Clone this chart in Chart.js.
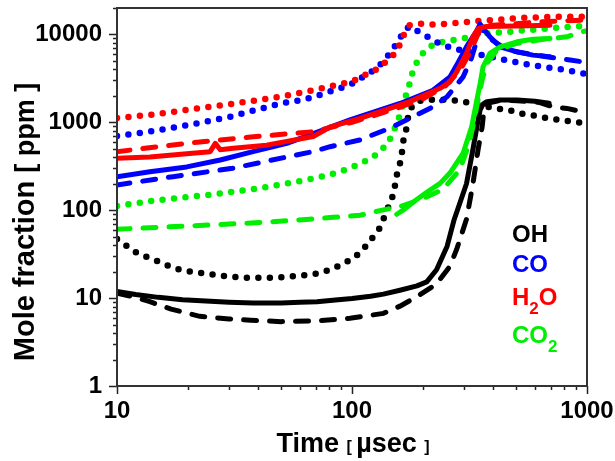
<!DOCTYPE html>
<html>
<head>
<meta charset="utf-8">
<script src="https://cdn.jsdelivr.net/npm/chart.js@4.4.1/dist/chart.umd.min.js"></script>
<style>
  html, body { margin: 0; padding: 0; background: #fff; }
</style>
</head>
<body>
<canvas id="chart" width="615" height="461"></canvas>
<script>
// axis ticks
const xTickLabels = [10, 100, 1000];
const yTickLabels = [1, 10, 100, 1000, 10000];

// species shown in the in-plot legend
const speciesNames = ['OH', 'CO', 'H2O', 'CO2'];
const speciesColors = ['#000000', '#0000ff', '#ff0000', '#00ee00'];

// [time (usec), mole fraction (ppm)] -- exp = solid, model1 = dashed, model2 = dotted
const ohExp = [[10,11.9],[12,11],[15,10.2],[19,9.6],[25,9.2],[30,9.0],[38,8.8],[50,8.8],[60,9.0],[71,9.1],[85,9.5],[100,9.9],[120,10.5],[136,11.1],[160,12.3],[189,13.8],[208,15.3],[229,21],[254,39],[272,78],[307,200],[327,490],[340,890],[351,1390],[362,1620],[375,1720],[427,1800],[504,1800],[600,1740],[690,1650]];
const ohModel1 = [[10,11.4],[12,10.2],[13.8,9.1],[17,7.5],[22.5,6.2],[30,5.8],[37,5.6],[50,5.4],[71,5.5],[98,5.9],[136,6.7],[160,8.1],[189,10.4],[229,14.5],[261,23],[279,36],[307,79],[327,200],[344,490],[358,890],[363,1270],[375,1650],[427,1780],[504,1760],[630,1680],[717,1500],[822,1440],[962,1310],[1000,1290]];
const ohModel2 = [[10,47],[11.1,38.6],[12.3,32],[13.8,28.6],[15.2,25.8],[17.1,22.5],[19.1,20.6],[21.5,19.7],[24.2,19],[26.9,18.2],[30.3,17.6],[34,17.1],[38,17],[43,17],[48,17.1],[53.5,17.5],[60,18],[67.6,18.5],[75.3,19.7],[83,21.8],[91.6,24.4],[101,28.6],[110,33.9],[119,45],[129,57],[136,79],[142,105],[148,137],[152,184],[155,250],[160,340],[163,445],[165,600],[170,826],[172,1070],[180,1530],[191,1750],[220,1806],[261,1806],[292,1720],[327,1650],[405,1440],[462,1390],[519,1260],[584,1210],[650,1140],[730,1080],[822,1040],[906,1000],[1000,970]];

const coExp = [[10,241],[13.8,274],[19.8,311],[27.5,373],[37.9,464],[52.8,577],[68,740],[98,1070],[160,1640],[221,2320],[261,3290],[279,4480],[307,7230],[340,11100],[351,13100],[386,9400],[427,7230],[504,6330],[589,5820],[696,5570]];
const coModel1 = [[10,194],[17.3,241],[31,300],[68,464],[80.6,528],[108,630],[145,860],[176,1110],[221,1500],[254,1960],[297,3290],[322,5330],[340,8620],[351,12300],[386,9000],[457,6640],[553,6080],[672,5570],[847,5120],[933,4930],[1000,4800]];
const coModel2 = [[10,700],[14,790],[20,930],[30,1150],[50,1645],[62,1806],[69,1960],[86,2370],[100,2750],[119,3660],[127,4100],[138,5120],[149,6800],[159,8620],[165,10700],[176,12400],[188,11100],[202,10000],[228,8250],[244,7560],[272,6930],[340,6000],[418,5330],[529,4680],[650,4280],[822,3930],[916,3660],[1000,3550]];

const h2oExp = [[10,390],[13.8,404],[19.8,438],[24.9,464],[26.2,577],[27.5,487],[31.2,506],[43.3,550],[68.4,690],[81,890],[108,1110],[145,1440],[176,1720],[237,2440],[261,2890],[279,3760],[307,6080],[327,9400],[344,11700],[373,12300],[500,12500],[696,12750]];
const h2oModel1 = [[10,464],[19.8,577],[38,685],[68,782],[100,1000],[150,1400],[200,1850],[250,2600],[290,4000],[320,6500],[340,9500],[355,12000],[375,12600],[450,13000],[600,13800],[800,14300],[1000,14600]];
const h2oModel2 = [[10,1120],[14,1220],[20,1390],[30,1600],[50,1970],[70,2350],[100,2920],[131,4170],[142,5120],[155,6330],[168,10600],[176,12750],[194,13300],[219,13000],[237,13000],[300,13800],[386,14540],[550,15500],[700,15850],[1000,15900]];

const co2Exp = [[155,90],[165,100],[183,125],[208,160],[237,202],[261,265],[297,445],[323,890],[340,1806],[351,2770],[361,4280],[386,6080],[427,7230],[504,8250],[589,8800],[696,9000]];
const co2Model1 = [[10,60.8],[15.2,64],[24.8,68],[40.6,72.5],[66,79],[83,83],[108,87.6],[136,101],[160,110],[200,135],[244,173],[288,290],[312,530],[327,890],[344,1806],[358,3040],[375,4700],[414,6640],[500,7900],[650,8800],[822,9400],[950,10700],[1000,11000]];
const co2Model2 = [[10,112],[15.2,131],[24.8,150],[40.6,178],[66,225],[79,250],[98,300],[121,390],[131,464],[142,577],[149,750],[160,1210],[165,1650],[171,2140],[176,2770],[182,3930],[191,5120],[200,6080],[215,7230],[225,7900],[266,8620],[297,9000],[375,10300],[470,10700],[535,11100],[676,11700],[847,12200],[1000,12500]];

const BLACK = speciesColors[0], BLUE = speciesColors[1], RED = speciesColors[2], GREEN = speciesColors[3];

function toPoints(arr) {
  return arr.map(p => ({ x: p[0], y: p[1] }));
}

function solid(data, color) {
  return { data: toPoints(data), borderColor: color, borderWidth: 5, showLine: true,
           pointRadius: 0, tension: 0, borderCapStyle: 'round', borderJoinStyle: 'round' };
}
function dashed(data, color) {
  return { data: toPoints(data), borderColor: color, borderWidth: 5, showLine: true,
           pointRadius: 0, tension: 0, borderDash: [13, 13], borderCapStyle: 'round' };
}
function dotted(data, color) {
  return { data: toPoints(data), borderColor: color, borderWidth: 6.5, showLine: true,
           pointRadius: 0, tension: 0, borderDash: [0, 11.5], borderCapStyle: 'round' };
}

// first in list is drawn on top
const datasets = [
  solid(co2Exp, GREEN), dashed(co2Model1, GREEN),
  solid(h2oExp, RED), dashed(h2oModel1, RED),
  solid(coExp, BLUE), dashed(coModel1, BLUE),
  solid(ohExp, BLACK), dashed(ohModel1, BLACK),
  dotted(h2oModel2, RED), dotted(coModel2, BLUE),
  dotted(co2Model2, GREEN), dotted(ohModel2, BLACK)
];

// draws text pieces one after another
function drawRuns(ctx, runs, x, y) {
  let cx = x;
  runs.forEach(r => {
    ctx.font = r.font;
    ctx.fillStyle = r.color || '#000';
    ctx.fillText(r.text, cx, y + (r.dy || 0));
    cx += ctx.measureText(r.text).width;
  });
  return cx - x;
}
function runsWidth(ctx, runs) {
  let w = 0;
  runs.forEach(r => { ctx.font = r.font; w += ctx.measureText(r.text).width; });
  return w;
}

const PLOT = { left: 117, right: 587, top: 8, bottom: 386 };

const decor = {
  id: 'decor',
  afterDraw(chart) {
    const { ctx, chartArea: a, scales } = chart;
    const xs = scales.x, ys = scales.y;
    ctx.save();

    // ticks
    ctx.strokeStyle = '#222';
    ctx.lineWidth = 1.5;
    ctx.beginPath();
    for (let d = 1; d <= 10000; d *= 10) {
      for (let k = 1; k <= 9; k++) {
        const v = k * d;
        if (v > 20000) break;
        const py = Math.round(ys.getPixelForValue(v)) + 0.5;
        const len = k === 1 ? 8 : 4;
        ctx.moveTo(a.left - len, py);
        ctx.lineTo(a.left, py);
      }
    }
    for (let d = 10; d <= 1000; d *= 10) {
      for (let k = 1; k <= 9; k++) {
        const v = k * d;
        if (v > 1000) break;
        const px = Math.round(xs.getPixelForValue(v)) + 0.5;
        const len = k === 1 ? 8 : 4;
        ctx.moveTo(px, a.bottom);
        ctx.lineTo(px, a.bottom + len);
      }
    }
    ctx.stroke();

    // frame
    ctx.strokeStyle = '#333';
    ctx.lineWidth = 2;
    ctx.strokeRect(a.left, a.top, a.right - a.left, a.bottom - a.top);

    ctx.textBaseline = 'alphabetic';
    ctx.textAlign = 'left';
    const F = 'Liberation Sans, Arial, sans-serif';

    // x title
    const xRuns = [
      { text: 'Time ', font: 'bold 27px ' + F },
      { text: '[ ', font: 'bold 16px ' + F },
      { text: '\u00b5sec ', font: 'bold 27px ' + F },
      { text: ']', font: 'bold 16px ' + F }
    ];
    const xw = runsWidth(ctx, xRuns);
    drawRuns(ctx, xRuns, 353 - xw / 2, 452);

    // y title
    const yRuns = [
      { text: 'Mole fraction ', font: 'bold 29px ' + F },
      { text: '[ ', font: 'bold 27px ' + F },
      { text: 'ppm', font: 'bold 27px ' + F },
      { text: ' ]', font: 'bold 27px ' + F }
    ];
    const yw = runsWidth(ctx, yRuns);
    ctx.save();
    ctx.translate(34, 222);
    ctx.rotate(-Math.PI / 2);
    drawRuns(ctx, yRuns, -yw / 2, 0);
    ctx.restore();

    // species labels
    const baselines = [242, 272, 305, 343];
    speciesNames.forEach((name, i) => {
      const runs = [];
      name.split(/(\d)/).filter(s => s).forEach(s => {
        if (/\d/.test(s)) runs.push({ text: s, font: 'bold 17px ' + F, color: speciesColors[i], dy: 9 });
        else runs.push({ text: s, font: 'bold 24px ' + F, color: speciesColors[i] });
      });
      drawRuns(ctx, runs, 512, baselines[i]);
    });

    ctx.restore();
  }
};

new Chart(document.getElementById('chart'), {
  type: 'scatter',
  data: { datasets },
  options: {
    responsive: false,
    animation: false,
    devicePixelRatio: 1,
    layout: { padding: { top: PLOT.top, right: 615 - PLOT.right, left: 0, bottom: 0 } },
    plugins: { legend: { display: false }, tooltip: { enabled: false } },
    scales: {
      x: {
        type: 'logarithmic', min: 10, max: 1000, bounds: 'data',
        grid: { display: false, drawTicks: false },
        border: { display: false },
        afterBuildTicks: s => { s.ticks = xTickLabels.map(v => ({ value: v })); },
        afterFit: s => { s.height = 461 - PLOT.bottom; s.paddingLeft = 0; s.paddingRight = 0; },
        ticks: {
          autoSkip: false, maxRotation: 0, padding: 11, color: '#000',
          font: { family: 'Liberation Sans, Arial, sans-serif', size: 24, weight: 'bold' },
          callback: v => String(v)
        }
      },
      y: {
        type: 'logarithmic', min: 1, max: 20000, bounds: 'data',
        grid: { display: false, drawTicks: false },
        border: { display: false },
        afterBuildTicks: s => { s.ticks = yTickLabels.map(v => ({ value: v })); },
        afterFit: s => { s.width = PLOT.left; s.paddingTop = 0; s.paddingBottom = 0; },
        ticks: {
          autoSkip: false, padding: 15, color: '#000',
          font: { family: 'Liberation Sans, Arial, sans-serif', size: 24, weight: 'bold' },
          callback: v => String(v)
        }
      }
    }
  },
  plugins: [decor]
});
</script>
</body>
</html>
